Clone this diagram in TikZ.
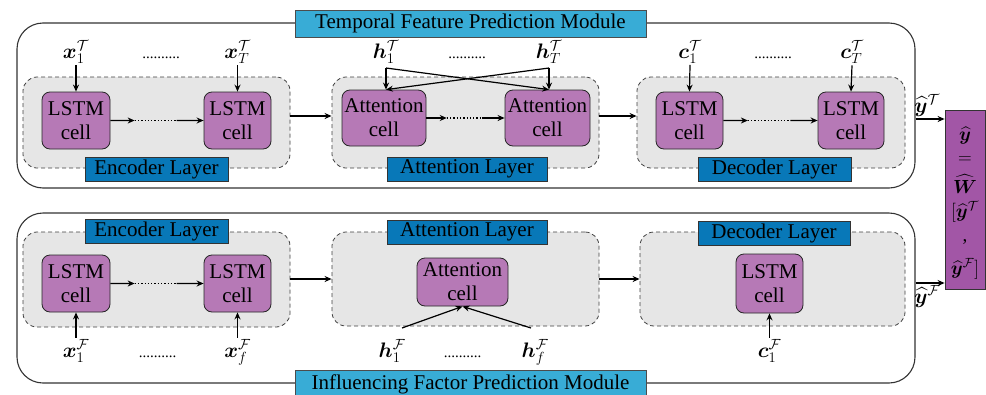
\RequirePackage{fix-cm}
\documentclass[tikz,border=0pt]{standalone}
\usepackage{amsmath,bm}
\usepackage{fontspec}
\setmainfont{Liberation Serif}
\usetikzlibrary{arrows.meta,calc}

\definecolor{titlecyan}{RGB}{56,172,214}
\definecolor{layerblue}{RGB}{8,120,184}
\definecolor{cellpurple}{RGB}{182,121,182}
\definecolor{fusepurple}{RGB}{162,86,166}
\definecolor{layergray}{RGB}{230,230,230}

\tikzset{
  big/.style={font=\fontsize{21}{24}\selectfont},
  outerbox/.style={draw=black!80, line width=1.1pt, rounded corners=26pt, inner sep=0pt},
  layerbox/.style={draw=black!75, dash pattern=on 4pt off 3pt, fill=layergray,
                   rounded corners=14pt, line width=0.8pt, inner sep=0pt},
  cellbox/.style={big, draw=black!85, fill=cellpurple, rounded corners=8pt,
                  line width=0.8pt, align=center, inner sep=0pt},
  tagbox/.style={big, draw=black!80, fill=layerblue, line width=0.8pt, inner sep=0pt},
  titlebox/.style={big, draw=black!70, fill=titlecyan, line width=0.8pt, inner sep=0pt},
  fusebox/.style={draw=black!80, fill=fusepurple, line width=0.8pt, inner sep=0pt},
  fuseterm/.style={font=\fontsize{19}{22}\selectfont, inner sep=0pt},
  var/.style={big, inner sep=1.5pt, anchor=base},
  gap/.style={font=\fontsize{15}{15}\selectfont, inner sep=0pt, anchor=base},
  arr/.style={-{Stealth[length=7pt,width=6pt]}, line width=1.2pt},
  dotline/.style={dotted, line width=1.3pt},
}

% arrow, dotted run, arrow: the chain between two recurrent cells
\newcommand{\cellchain}[2]{%
  \draw[arr] (#1.east) -- ($(#1.east)!0.26!(#2.west)$);
  \draw[dotline] ($(#1.east)!0.26!(#2.west)$) -- ($(#1.east)!0.71!(#2.west)$);
  \draw[arr] ($(#1.east)!0.71!(#2.west)$) -- (#2.west);}

\begin{document}
\begin{tikzpicture}[x=1pt,y=-1pt]
\useasboundingbox (0,0) rectangle (986,394);

% ---------------- temporal feature prediction module ----------------
\node[outerbox, minimum width=898pt, minimum height=165pt] (outT) at (466,105.5) {};
\node[titlebox, minimum width=351pt, minimum height=27pt] (titleT) at (470.5,23.5)
  {Temporal Feature Prediction Module};

% encoder layer
\node[layerbox, minimum width=267pt, minimum height=91pt] (encT) at (156.5,122.5) {};
\node[tagbox, minimum width=143pt, minimum height=24pt] (encTtag) at (156.5,169) {Encoder Layer};
\node[cellbox, minimum width=68pt, minimum height=57pt] (e1) at (76,120.5) {LSTM\\cell};
\node[cellbox, minimum width=67pt, minimum height=57pt] (e2) at (237.5,120.5) {LSTM\\cell};
\node[var] (x1) at (76,58) {$\boldsymbol{x}_1^{\mathcal{T}}$};
\node[var] (x2) at (237.5,58) {$\boldsymbol{x}_T^{\mathcal{T}}$};
\node[gap] (xdots) at (161,58) {..........};
\draw[arr] (x1.south) -- (e1.north);
\draw[arr] (x2.south) -- (e2.north);
\cellchain{e1}{e2}

% attention layer
\node[layerbox, minimum width=267pt, minimum height=91pt] (attT) at (465.5,122.5) {};
\node[tagbox, minimum width=160pt, minimum height=24pt] (attTtag) at (467,169) {Attention Layer};
\node[cellbox, minimum width=84pt, minimum height=56pt] (a1) at (384,118) {Attention\\cell};
\node[cellbox, minimum width=85pt, minimum height=56pt] (a2) at (547.5,118) {Attention\\cell};
\node[var] (h1) at (386,58) {$\boldsymbol{h}_1^{\mathcal{T}}$};
\node[var] (h2) at (549,58) {$\boldsymbol{h}_T^{\mathcal{T}}$};
\node[gap] (hdots) at (467,58) {..........};
\coordinate (h1s) at (386,68);
\coordinate (h2s) at (549,68);
\draw[arr] (h1s) -- (h1s |- a1.north);
\draw[arr] (h1s) -- (h2s |- a2.north);
\draw[arr] (h2s) -- (h2s |- a2.north);
\draw[arr] (h2s) -- (h1s |- a1.north);
\cellchain{a1}{a2}

% decoder layer
\node[layerbox, minimum width=268pt, minimum height=91pt] (decT) at (771,122.5) {};
\node[tagbox, minimum width=153pt, minimum height=24pt] (decTtag) at (774.5,169) {Decoder Layer};
\node[cellbox, minimum width=67pt, minimum height=57pt] (d1) at (689.5,120.5) {LSTM\\cell};
\node[cellbox, minimum width=66pt, minimum height=57pt] (d2) at (851,120.5) {LSTM\\cell};
\node[var] (c1) at (690,58) {$\boldsymbol{c}_1^{\mathcal{T}}$};
\node[var] (c2) at (852,58) {$\boldsymbol{c}_T^{\mathcal{T}}$};
\node[gap] (cdots) at (773,58) {..........};
\draw[arr] (c1.south) -- (d1.north);
\draw[arr] (c2.south) -- (d2.north);
\cellchain{d1}{d2}

\coordinate (linkT) at (0,116);
\draw[arr] (encT.east |- linkT) -- (attT.west |- linkT);
\draw[arr] (attT.east |- linkT) -- (decT.west |- linkT);

% ---------------- influencing factor prediction module ----------------
\node[outerbox, minimum width=898pt, minimum height=170pt] (outF) at (466,298) {};

% encoder layer
\node[layerbox, minimum width=267pt, minimum height=95pt] (encF) at (156.5,279.5) {};
\node[tagbox, minimum width=143pt, minimum height=24pt] (encFtag) at (156.5,231) {Encoder Layer};
\node[cellbox, minimum width=68pt, minimum height=57pt] (f1) at (76,283.5) {LSTM\\cell};
\node[cellbox, minimum width=67pt, minimum height=57pt] (f2) at (237.5,283.5) {LSTM\\cell};
\node[var] (xf1) at (76,357) {$\boldsymbol{x}_1^{\mathcal{F}}$};
\node[var] (xf2) at (237.5,357) {$\boldsymbol{x}_f^{\mathcal{F}}$};
\node[gap] (xfdots) at (157.5,357) {..........};
\draw[arr] (xf1.north) -- (f1.south);
\draw[arr] (xf2.north) -- (f2.south);
\cellchain{f1}{f2}

% attention layer
\node[layerbox, minimum width=267pt, minimum height=94pt] (attF) at (465.5,279) {};
\node[tagbox, minimum width=160pt, minimum height=24pt] (attFtag) at (467,232) {Attention Layer};
\node[cellbox, minimum width=91pt, minimum height=48pt] (ac) at (462.5,282) {Attention\\cell};
\node[var] (hf1) at (392,357) {$\boldsymbol{h}_1^{\mathcal{F}}$};
\node[var] (hf2) at (535,357) {$\boldsymbol{h}_f^{\mathcal{F}}$};
\node[gap] (hfdots) at (462.5,357) {..........};
\coordinate (hf1s) at (402,328);
\coordinate (hf2s) at (531,328);
\draw[arr] (hf1s) -- (ac.south);
\draw[arr] (hf2s) -- (ac.south);

% decoder layer
\node[layerbox, minimum width=265pt, minimum height=94pt] (decF) at (772.5,279) {};
\node[tagbox, minimum width=152pt, minimum height=24pt] (decFtag) at (774,233) {Decoder Layer};
\node[cellbox, minimum width=67pt, minimum height=59pt] (dc) at (769.5,283.5) {LSTM\\cell};
\node[var] (cf1) at (769.5,357) {$\boldsymbol{c}_1^{\mathcal{F}}$};
\draw[arr] (cf1.north) -- (dc.south);

\coordinate (linkF) at (0,279);
\draw[arr] (encF.east |- linkF) -- (attF.west |- linkF);
\draw[arr] (attF.east |- linkF) -- (decF.west |- linkF);

\node[titlebox, minimum width=351pt, minimum height=27pt] (titleF) at (470.5,384)
  {Influencing Factor Prediction Module};

% ---------------- fusion of the two predictions ----------------
\node[fusebox, minimum width=40pt, minimum height=179pt] (fuse) at (965,199.5) {};
\node[fuseterm] (fy)  at (965,136) {$\widehat{\boldsymbol{y}}$};
\node[fuseterm] (feq) at (965,160) {$=$};
\node[fuseterm] (fW)  at (965,184) {$\widehat{\boldsymbol{W}}$};
\node[fuseterm] (fyT) at (965,212) {$[\widehat{\boldsymbol{y}}^{\mathcal{T}}$};
\node[fuseterm] (fc)  at (965,242) {,};
\node[fuseterm] (fyF) at (965,269) {$\widehat{\boldsymbol{y}}^{\mathcal{F}}]$};

\coordinate (inT) at ([yshift=80.5pt]fuse.west);
\coordinate (inF) at ([yshift=-83.5pt]fuse.west);
\draw[arr] (outT.east |- inT) -- (inT)
  node[pos=0.4, above, big, inner sep=2pt] {$\widehat{\boldsymbol{y}}^{\mathcal{T}}$};
\draw[arr] (outF.east |- inF) -- (inF)
  node[pos=0.4, below, big, inner sep=2pt] {$\widehat{\boldsymbol{y}}^{\mathcal{F}}$};

\end{tikzpicture}
\end{document}
